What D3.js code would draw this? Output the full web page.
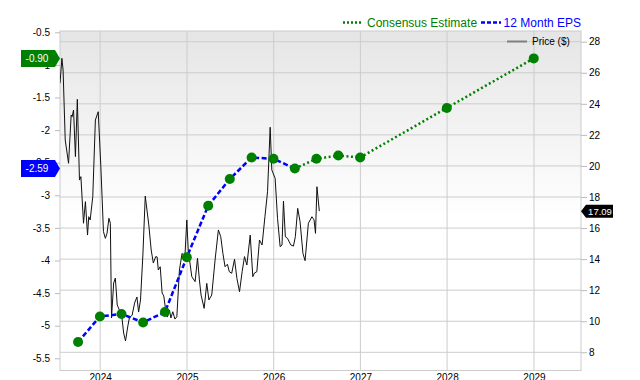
<!DOCTYPE html>
<html>
<head>
<meta charset="utf-8">
<script src="https://cdn.jsdelivr.net/npm/d3@7"></script>
<style>
  body { margin: 0; background: #fff; }
  svg { display: block; font-family: "Liberation Sans", Arial, sans-serif; }
</style>
</head>
<body>
<div id="chartArea"></div>
<script>
// quarterly 12 month EPS (actual)
var epsDates = ['2023-09-30','2023-12-31','2024-03-31','2024-06-30','2024-09-30','2024-12-31',
                '2025-03-31','2025-06-30','2025-09-30','2025-12-31','2026-03-31'];
var epsValues = [-5.25, -4.86, -4.82, -4.95, -4.79, -3.95, -3.16, -2.75, -2.42, -2.44, -2.59];

// consensus estimates (starts at last actual)
var estDates = ['2026-03-31','2026-06-30','2026-09-30','2026-12-31','2027-12-31','2028-12-31'];
var estValues = [-2.59, -2.44, -2.39, -2.42, -1.66, -0.90];

// share price ($)
var priceDates = ['2023-07-16','2023-07-24','2023-07-29','2023-08-07','2023-08-21','2023-09-01','2023-09-05',
  '2023-09-11','2023-09-19','2023-09-27','2023-10-06','2023-10-12','2023-10-23','2023-10-31','2023-11-09',
  '2023-11-14','2023-11-20','2023-12-01','2023-12-12','2023-12-24','2024-01-04','2024-01-15','2024-01-23',
  '2024-01-30','2024-02-07','2024-02-13','2024-02-18','2024-02-27','2024-03-05','2024-03-13','2024-03-22',
  '2024-04-01','2024-04-09','2024-04-17','2024-04-26','2024-05-03','2024-05-15','2024-05-25','2024-06-04',
  '2024-06-11','2024-06-19','2024-06-29','2024-07-09','2024-07-24','2024-08-03','2024-08-12','2024-08-22',
  '2024-08-28','2024-09-02','2024-09-10','2024-09-18','2024-09-25','2024-10-03','2024-10-10','2024-10-19',
  '2024-10-25','2024-11-02','2024-11-11','2024-11-19','2024-11-30','2024-12-11','2024-12-23','2024-12-31',
  '2025-01-06','2025-01-21','2025-02-04','2025-02-14','2025-02-22','2025-03-01','2025-03-14','2025-03-25',
  '2025-04-03','2025-04-15','2025-04-29','2025-05-13','2025-05-23','2025-06-01','2025-06-10','2025-06-20',
  '2025-06-28','2025-07-08','2025-07-20','2025-07-30','2025-08-10','2025-08-21','2025-08-31','2025-09-10',
  '2025-09-24','2025-10-05','2025-10-12','2025-10-22','2025-11-02','2025-11-13','2025-11-25','2025-12-06',
  '2025-12-17','2025-12-24','2026-01-07','2026-01-17','2026-01-28','2026-02-05','2026-02-11','2026-02-19',
  '2026-02-28','2026-03-14','2026-03-25','2026-04-02','2026-04-12','2026-04-22','2026-05-04','2026-05-13',
  '2026-05-27','2026-06-11','2026-06-20','2026-06-26','2026-07-02','2026-07-12'];
var priceValues = [25.32, 26.93, 26.18, 21.67, 20.17, 23.28, 23.17,
  23.60, 20.60, 24.29, 19.09, 19.31, 16.31, 17.70, 15.55,
  16.73, 16.52, 18.02, 22.96, 23.49, 19.95, 15.77, 15.34,
  15.66, 16.63, 16.31, 10.21, 12.46, 12.78, 11.05, 10.72,
  10.34, 9.24, 8.73, 9.63, 10.21, 10.40, 11.17, 11.56,
  10.59, 11.37, 14.27, 18.06, 16.20, 14.59, 13.75, 14.16,
  14.14, 13.30, 13.51, 11.82, 11.63, 10.72, 10.27, 10.72,
  10.21, 10.61, 10.14, 10.29, 13.30, 14.37, 14.16, 16.52,
  14.59, 12.87, 12.55, 14.05, 12.66, 11.69, 10.83, 12.44,
  11.37, 11.69, 13.94, 15.88, 15.44, 14.37, 13.51, 13.67,
  13.19, 13.09, 13.99, 12.76, 11.90, 13.19, 14.16, 13.62,
  15.55, 12.87, 13.11, 13.19, 15.23, 14.91, 16.73, 18.34,
  22.49, 19.74, 19.20, 16.63, 14.80, 14.91, 17.74, 15.44,
  15.34, 14.91, 14.84, 15.44, 17.27, 16.41, 14.37, 13.90,
  16.31, 16.73, 16.52, 15.66, 18.66, 17.09];

var epsTicks = [-5.5, -5, -4.5, -4, -3.5, -3, -2.5, -2, -1.5, -1, -0.5];
var priceTicks = [8, 10, 12, 14, 16, 18, 20, 22, 24, 26, 28];
var yearTicks = ['2024-01-01','2025-01-01','2026-01-01','2027-01-01','2028-01-01','2029-01-01'];

function drawChart() {
    var width = 640, height = 380;
    var plot = {left: 60, right: 581, top: 31, bottom: 370.5};
    var parse = d3.timeParse('%Y-%m-%d');

    var eps = epsDates.map(function(d, i) { return {date: parse(d), value: epsValues[i]}; });
    var est = estDates.map(function(d, i) { return {date: parse(d), value: estValues[i]}; });
    var price = priceDates.map(function(d, i) { return {date: parse(d), value: priceValues[i]}; });
    var years = yearTicks.map(parse);

    var x = d3.scaleTime().domain([parse('2023-07-16'), parse('2029-07-18')]).range([plot.left, plot.right]);
    var yEps = d3.scaleLinear().domain([-5.5, -0.5]).range([358.3, 32.3]);
    var yPrice = d3.scaleLinear().domain([8, 28]).range([352.3, 41.7]);

    var svg = d3.select('#chartArea').append('svg')
        .attr('width', width)
        .attr('height', height);

    // plot background, grey at top fading to white
    var grad = svg.append('defs').append('linearGradient')
        .attr('id', 'bg').attr('x1', 0).attr('y1', 0).attr('x2', 0).attr('y2', 1);
    grad.append('stop').attr('offset', '0%').attr('stop-color', '#e5e5e5');
    grad.append('stop').attr('offset', '55%').attr('stop-color', '#ffffff');
    svg.append('clipPath').attr('id', 'clip').append('rect')
        .attr('x', plot.left).attr('y', plot.top)
        .attr('width', plot.right - plot.left).attr('height', plot.bottom - plot.top);

    svg.append('rect')
        .attr('x', plot.left).attr('y', plot.top)
        .attr('width', plot.right - plot.left).attr('height', plot.bottom - plot.top)
        .attr('fill', 'url(#bg)');

    // grid
    svg.append('g').selectAll('line').data(priceTicks).enter().append('line')
        .attr('x1', plot.left).attr('x2', plot.right)
        .attr('y1', function(d) { return yPrice(d); })
        .attr('y2', function(d) { return yPrice(d); })
        .attr('stroke', '#cccccc');
    svg.append('g').selectAll('line').data(years).enter().append('line')
        .attr('x1', function(d) { return x(d); })
        .attr('x2', function(d) { return x(d); })
        .attr('y1', plot.top).attr('y2', plot.bottom)
        .attr('stroke', '#cccccc');
    svg.append('rect')
        .attr('x', plot.left).attr('y', plot.top)
        .attr('width', plot.right - plot.left).attr('height', plot.bottom - plot.top)
        .attr('fill', 'none').attr('stroke', '#cccccc');

    // axes
    var left = svg.append('g')
        .attr('transform', 'translate(' + plot.left + ',0)')
        .call(d3.axisLeft(yEps).tickValues(epsTicks).tickSize(5).tickPadding(5)
              .tickFormat(function(d) { return String(d); }));
    var right = svg.append('g')
        .attr('transform', 'translate(' + plot.right + ',0)')
        .call(d3.axisRight(yPrice).tickValues(priceTicks).tickSize(6).tickPadding(2));
    var bottom = svg.append('g')
        .attr('transform', 'translate(0,' + plot.bottom + ')')
        .call(d3.axisBottom(x).tickValues(years).tickSize(0).tickPadding(3)
              .tickFormat(d3.timeFormat('%Y')));
    [left, right, bottom].forEach(function(g) {
        g.select('.domain').remove();
        g.selectAll('line').attr('stroke', '#bbbbbb');
        g.selectAll('text').attr('fill', '#000').style('font-size', '10px')
         .style('font-family', '"Liberation Sans", Arial, sans-serif');
    });

    var lines = svg.append('g').attr('clip-path', 'url(#clip)');

    // price line
    lines.append('path').datum(price)
        .attr('d', d3.line().x(function(d) { return x(d.date); }).y(function(d) { return yPrice(d.value); }))
        .attr('fill', 'none').attr('stroke', '#111').attr('stroke-width', 1);

    var epsLine = d3.line().x(function(d) { return x(d.date); }).y(function(d) { return yEps(d.value); });
    lines.append('path').datum(est)
        .attr('d', epsLine)
        .attr('fill', 'none').attr('stroke', '#008000').attr('stroke-width', 2.5)
        .attr('stroke-dasharray', '2,2.5');
    lines.append('path').datum(eps)
        .attr('d', epsLine)
        .attr('fill', 'none').attr('stroke', '#0000ff').attr('stroke-width', 2.5)
        .attr('stroke-dasharray', '5,2.5');

    lines.selectAll('circle').data(eps.concat(est.slice(1))).enter().append('circle')
        .attr('cx', function(d) { return x(d.date); })
        .attr('cy', function(d) { return yEps(d.value); })
        .attr('r', 5)
        .attr('fill', '#008000');

    // value flags
    function flagLeft(v, color) {
        var cy = yEps(v);
        svg.append('path')
            .attr('d', 'M21,' + (cy - 8.5) + 'H55L60,' + cy + 'L55,' + (cy + 8.5) + 'H21Z')
            .attr('fill', color);
        svg.append('text').attr('x', 37).attr('y', cy + 3.5)
            .attr('text-anchor', 'middle').attr('fill', '#fff')
            .style('font-size', '10px').text(v.toFixed(2));
    }
    flagLeft(estValues[estValues.length - 1], '#008000');
    flagLeft(epsValues[epsValues.length - 1], '#0000ff');

    var lastPrice = priceValues[priceValues.length - 1];
    var py = yPrice(lastPrice);
    svg.append('path')
        .attr('d', 'M' + plot.right + ',' + py + 'L586,' + (py - 6.5) + 'H613V' + (py + 6.5) + 'H586Z')
        .attr('fill', '#000');
    svg.append('text').attr('x', 600).attr('y', py + 3.5)
        .attr('text-anchor', 'middle').attr('fill', '#fff')
        .style('font-size', '9.5px').text(lastPrice.toFixed(2));

    // legend
    var leg = svg.append('g');
    leg.append('line').attr('x1', 343).attr('x2', 363).attr('y1', 22.5).attr('y2', 22.5)
        .attr('stroke', '#008000').attr('stroke-width', 2.5).attr('stroke-dasharray', '2,2');
    leg.append('text').attr('x', 367).attr('y', 27).attr('fill', '#008000')
        .style('font-size', '12px').text('Consensus Estimate');
    leg.append('line').attr('x1', 481).attr('x2', 501).attr('y1', 22.5).attr('y2', 22.5)
        .attr('stroke', '#0000ff').attr('stroke-width', 2.5).attr('stroke-dasharray', '4,2');
    leg.append('text').attr('x', 581).attr('y', 27).attr('text-anchor', 'end').attr('fill', '#0000ff')
        .style('font-size', '12px').text('12 Month EPS');
    leg.append('line').attr('x1', 507).attr('x2', 527).attr('y1', 41.5).attr('y2', 41.5)
        .attr('stroke', '#808080').attr('stroke-width', 2);
    leg.append('text').attr('x', 532).attr('y', 45).attr('fill', '#000')
        .style('font-size', '10px').text('Price ($)');
}

drawChart();
</script>
</body>
</html>
